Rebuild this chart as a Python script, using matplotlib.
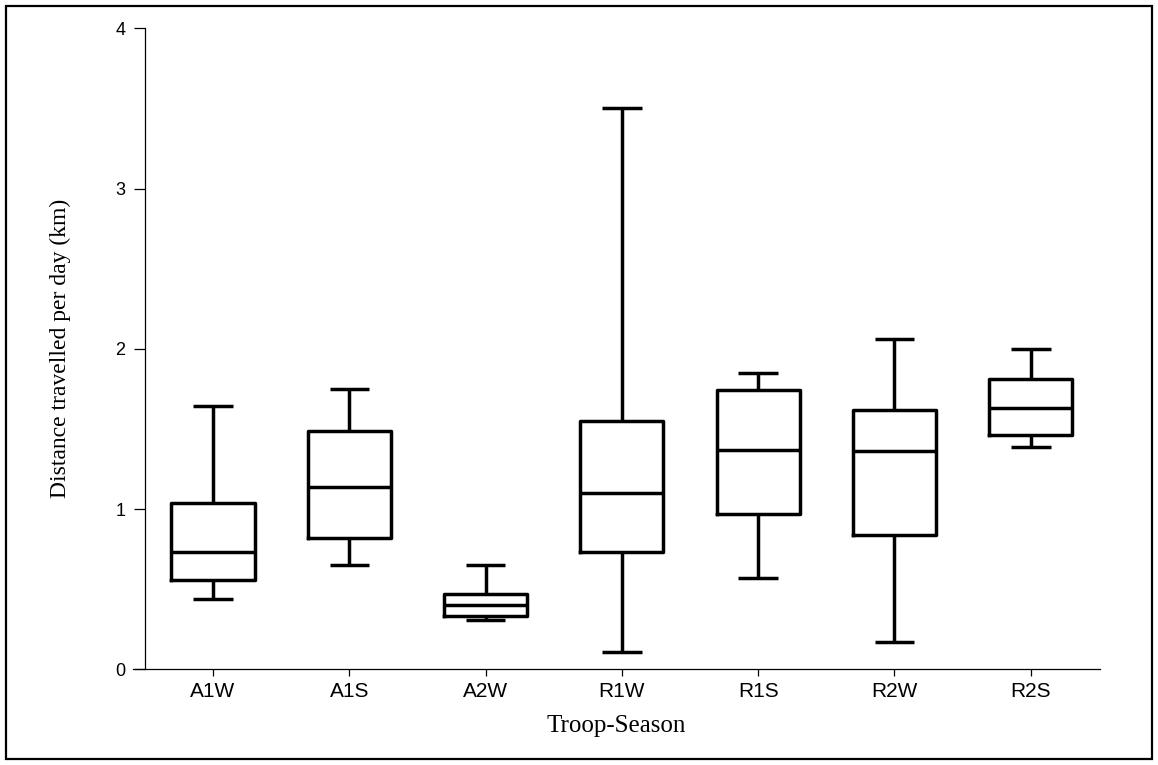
import matplotlib
matplotlib.use("Agg")
import matplotlib.pyplot as plt
from matplotlib.patches import Rectangle

# values (km per day)
groups = ["A1W", "A1S", "A2W", "R1W", "R1S", "R2W", "R2S"]
whis_lo = [0.44, 0.65, 0.31, 0.11, 0.57, 0.17, 1.39]
q1 = [0.56, 0.82, 0.33, 0.73, 0.97, 0.84, 1.46]
medians = [0.73, 1.14, 0.40, 1.10, 1.37, 1.36, 1.63]
q3 = [1.04, 1.49, 0.47, 1.55, 1.74, 1.62, 1.81]
whis_hi = [1.64, 1.75, 0.65, 3.50, 1.85, 2.06, 2.00]

stats = []
for i in range(len(groups)):
    stats.append(dict(label=groups[i], whislo=whis_lo[i], q1=q1[i], med=medians[i],
                      q3=q3[i], whishi=whis_hi[i], fliers=[]))

W, H = 1158, 765
fig = plt.figure(figsize=(W / 100, H / 100), dpi=100)
ax = fig.add_axes([133 / W, (H - 669.3) / H, (1100 - 133) / W, (669.3 - 28.3) / H])

line_kw = dict(color="black", linewidth=2.5, solid_capstyle="butt")
ax.bxp(stats, positions=range(1, len(groups) + 1), widths=0.61, capwidths=0.29,
       showfliers=False, boxprops=dict(color="black", linewidth=2.5),
       whiskerprops=line_kw, capprops=line_kw, medianprops=line_kw)

ax.set_xlim(0.413, 7.508)
ax.set_ylim(0, 4)
ax.set_yticks([0, 1, 2, 3, 4])
ax.set_xticks(range(1, len(groups) + 1))
ax.set_xticklabels(groups)

for s in ["top", "right"]:
    ax.spines[s].set_visible(False)
ax.spines["left"].set_position(("data", 0.5))
ax.spines["left"].set_linewidth(0.9)
ax.spines["bottom"].set_linewidth(0.9)

ax.tick_params(axis="y", length=8, width=0.9, pad=6)
ax.tick_params(axis="x", length=5, width=0.9, pad=4)
for t in ax.get_yticklabels():
    t.set_fontfamily("Liberation Sans")
    t.set_fontsize(13)
for t in ax.get_xticklabels():
    t.set_fontfamily("Liberation Sans")
    t.set_fontsize(15)

ax.set_xlabel("Troop-Season", fontfamily="Liberation Serif", fontsize=18, labelpad=10)
ax.set_ylabel("Distance travelled per day (km)", fontfamily="Liberation Serif", fontsize=17)
ax.yaxis.set_label_coords(-0.064, 0.5)

# frame around the whole picture
fig.patches.append(Rectangle((6 / W, 6 / H), 1 - 12 / W, 1 - 12 / H, transform=fig.transFigure,
                             fill=False, edgecolor="black", linewidth=1.6))

fig.savefig("out.png", dpi=100)
